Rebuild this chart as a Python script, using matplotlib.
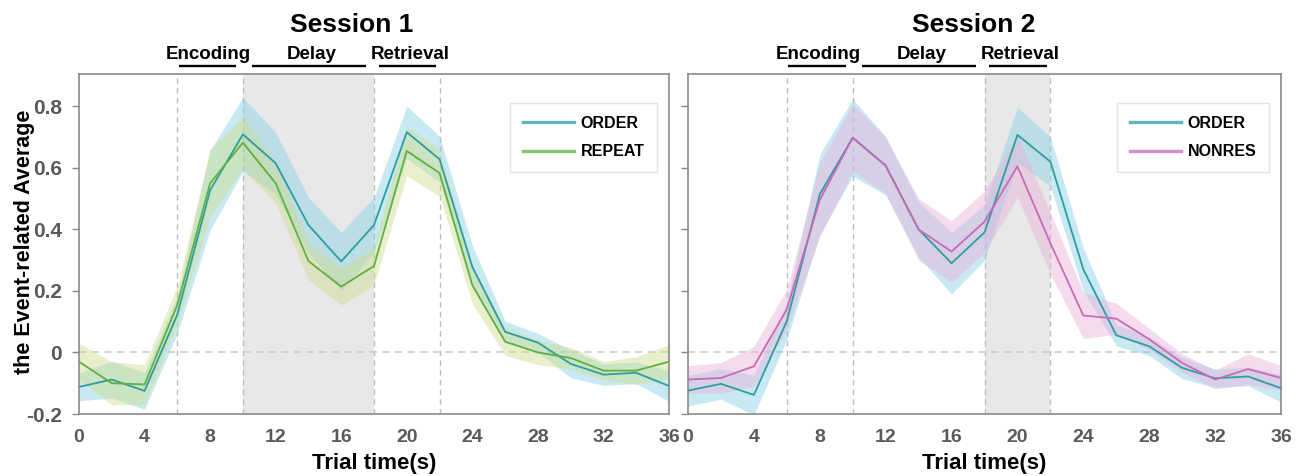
import matplotlib
matplotlib.use("Agg")
import matplotlib.pyplot as plt
from matplotlib import font_manager
import numpy as np

# trial time points (s)
times = np.arange(0, 37, 2)

# Session 1
s1_order = [-0.112, -0.088, -0.125, 0.123, 0.527, 0.709, 0.615, 0.414, 0.296, 0.414,
            0.716, 0.628, 0.278, 0.067, 0.032, -0.037, -0.072, -0.066, -0.109]
s1_order_err = [0.045, 0.06, 0.06, 0.06, 0.13, 0.12, 0.1, 0.09, 0.095, 0.09,
                0.085, 0.075, 0.07, 0.035, 0.03, 0.045, 0.035, 0.035, 0.05]
s1_repeat = [-0.03, -0.10, -0.104, 0.155, 0.55, 0.682, 0.55, 0.297, 0.214, 0.281,
             0.655, 0.583, 0.219, 0.035, 0.0, -0.018, -0.059, -0.059, -0.03]
s1_repeat_err = [0.06, 0.07, 0.065, 0.06, 0.11, 0.085, 0.065, 0.06, 0.06, 0.06,
                 0.08, 0.075, 0.06, 0.045, 0.04, 0.035, 0.03, 0.045, 0.055]

# Session 2
s2_order = [-0.124, -0.102, -0.138, 0.102, 0.514, 0.698, 0.607, 0.40, 0.29, 0.39,
            0.707, 0.62, 0.27, 0.056, 0.02, -0.05, -0.084, -0.078, -0.116]
s2_order_err = [0.05, 0.05, 0.065, 0.06, 0.13, 0.125, 0.095, 0.09, 0.1, 0.09,
                0.09, 0.08, 0.07, 0.035, 0.03, 0.035, 0.03, 0.03, 0.045]
s2_nonres = [-0.088, -0.083, -0.045, 0.14, 0.496, 0.698, 0.607, 0.40, 0.328, 0.425,
             0.605, 0.355, 0.12, 0.11, 0.043, -0.034, -0.088, -0.054, -0.083]
s2_nonres_err = [0.045, 0.05, 0.065, 0.065, 0.12, 0.11, 0.09, 0.1, 0.1, 0.1,
                 0.1, 0.1, 0.075, 0.05, 0.035, 0.03, 0.03, 0.05, 0.04]

# task phases
phase_names = ["Encoding", "Delay", "Retrieval"]
phase_bounds = [(6, 10), (10, 18), (18, 22)]
phase_edges = [6, 10, 18, 22]

C_ORDER = "#2a9ea2"
C_ORDER_BAND = "#86d0e2"
C_REPEAT = "#5fb040"
C_REPEAT_BAND = "#cddc8c"
C_NONRES = "#c96ab6"
C_NONRES_BAND = "#eab0da"

have_narrow = any("Narrow" in f.name for f in font_manager.fontManager.ttflist)
TICK_FONT = ["Liberation Sans Narrow", "Liberation Sans", "DejaVu Sans"] if have_narrow \
    else ["Liberation Sans", "DejaVu Sans"]
LABEL_FONT = ["Liberation Sans", "DejaVu Sans"]
tick_size = 14 if have_narrow else 12

fig = plt.figure(figsize=(12.99, 4.76), dpi=100)
ax1 = fig.add_axes([79 / 1299, 1 - 414 / 476, 590 / 1299, 340 / 476])
ax2 = fig.add_axes([688 / 1299, 1 - 414 / 476, 593 / 1299, 340 / 476])


def draw_panel(ax, title, title_x, series, shaded, show_ylab):
    a, b = phase_bounds[shaded]
    ax.axvspan(a, b, facecolor="#e8e8e8", edgecolor="none", zorder=0)
    for xe in phase_edges:
        ax.axvline(xe, color="#bdbdbd", linestyle=(0, (4, 3)), linewidth=1.0, zorder=1)
    ax.axhline(0, color="#cfcfcf", linestyle=(0, (4, 3)), linewidth=1.3, zorder=1)

    for name, vals, err, lc, bc in series:
        v = np.array(vals)
        e = np.array(err)
        ax.fill_between(times, v - e, v + e, color=bc, alpha=0.45, linewidth=0, zorder=2)
        ax.plot(times, v, color=lc, linewidth=1.3, label=name, zorder=3)

    ax.set_xlim(0, 36)
    ax.set_ylim(-0.2, 0.905)
    ax.set_xticks(np.arange(0, 37, 4))
    ax.set_yticks([-0.2, 0, 0.2, 0.4, 0.6, 0.8])
    ax.set_yticklabels(["-0.2", "0", "0.2", "0.4", "0.6", "0.8"])
    ax.tick_params(axis="x", length=0, pad=11, labelsize=tick_size, labelcolor="#5a5a5a")
    ax.tick_params(axis="y", length=5, width=1, color="#888888", pad=7.5,
                   labelsize=tick_size + 1, labelcolor="#5a5a5a", labelleft=show_ylab)
    for lab in ax.get_xticklabels() + ax.get_yticklabels():
        lab.set_fontweight("bold")
        lab.set_family(TICK_FONT)
    for sp in ax.spines.values():
        sp.set_color("#8a8a8a")
        sp.set_linewidth(1.2)

    ax.set_xlabel("Trial time(s)", fontsize=16, fontweight="bold", family=TICK_FONT,
                  labelpad=5)
    if show_ylab:
        ax.set_ylabel("the Event-related Average", fontsize=15.5, fontweight="bold",
                      family=LABEL_FONT)
        ax.yaxis.set_label_coords(-0.075, 0.505)
    ax.set_title(title, fontsize=19, fontweight="bold", family=LABEL_FONT, pad=30,
                 x=title_x)

    # phase labels with underlines above the axes
    centers = [7.9, 14.2, 20.2]
    line_spans = [(6.1, 9.6), (10.55, 17.5), (18.3, 21.8)]
    for name, cx, (la, lb) in zip(phase_names, centers, line_spans):
        ax.text(cx, 0.968, name, ha="center", va="center", fontsize=13.5,
                fontweight="bold", family=TICK_FONT, clip_on=False)
        ax.plot([la, lb], [0.93, 0.93], color="black", linewidth=1.7,
                clip_on=False, solid_capstyle="butt")

    leg = ax.legend(loc="upper right", bbox_to_anchor=(0.98, 0.915), handlelength=3.2,
                    fontsize=11.5, frameon=True, fancybox=False, borderpad=0.8,
                    labelspacing=0.85, handletextpad=0.4, borderaxespad=0)
    leg.get_frame().set_edgecolor("#dddddd")
    leg.get_frame().set_linewidth(1.0)
    for t in leg.get_texts():
        t.set_fontweight("bold")
        t.set_family(LABEL_FONT)
    for h in leg.get_lines():
        h.set_linewidth(2.4)
        h.set_alpha(0.75)


draw_panel(ax1, "Session 1", 0.463,
           [("ORDER", s1_order, s1_order_err, C_ORDER, C_ORDER_BAND),
            ("REPEAT", s1_repeat, s1_repeat_err, C_REPEAT, C_REPEAT_BAND)],
           shaded=1, show_ylab=True)
draw_panel(ax2, "Session 2", 0.482,
           [("ORDER", s2_order, s2_order_err, C_ORDER, C_ORDER_BAND),
            ("NONRES", s2_nonres, s2_nonres_err, C_NONRES, C_NONRES_BAND)],
           shaded=2, show_ylab=False)

fig.savefig("out.png", dpi=100)
